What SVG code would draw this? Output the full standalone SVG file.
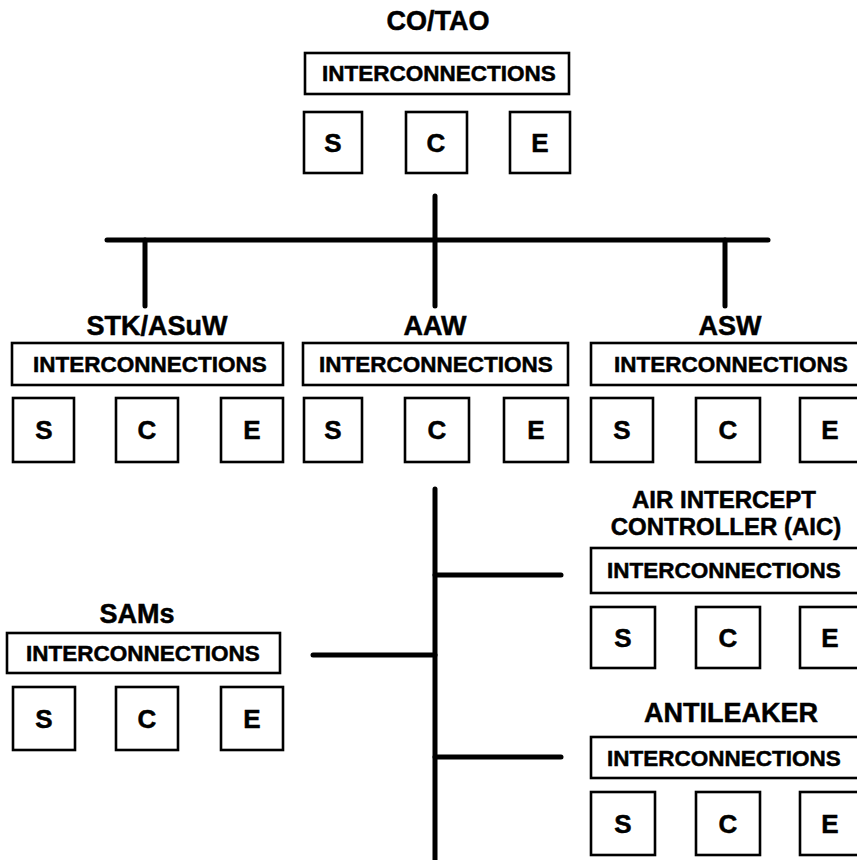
<svg xmlns="http://www.w3.org/2000/svg" width="857" height="860" viewBox="0 0 857 860">
<style>
rect.b{fill:#fff;stroke:#000;stroke-width:2.6}
text{font-family:"Liberation Sans",Arial,sans-serif;font-weight:bold;text-anchor:middle;fill:#000;stroke:#000;stroke-width:0.5}
.t{font-size:27px}
.a{font-size:24px}
.i{font-size:22.5px}
.l{font-size:26px}
.c line{stroke:#000;stroke-width:5;stroke-linecap:round}
</style>
<rect width="857" height="860" fill="#fff"/>
<g class="c" id="connectors">
<line x1="107" y1="240" x2="768" y2="240"/>
<line x1="435" y1="196" x2="435" y2="306"/>
<line x1="145" y1="240" x2="145" y2="306"/>
<line x1="725" y1="240" x2="725" y2="306"/>
<line x1="435" y1="489" x2="435" y2="862"/>
<line x1="435" y1="575" x2="561" y2="575"/>
<line x1="435" y1="757" x2="561" y2="757"/>
<line x1="313" y1="655" x2="435" y2="655"/>
</g>
<g id="cotao">
<text class="t" x="438" y="30">CO/TAO</text>
<rect class="b" x="305" y="53" width="264" height="41"/>
<text class="i" x="439" y="81">INTERCONNECTIONS</text>
<rect class="b" x="304" y="112" width="58" height="61"/><text class="l" x="333" y="152">S</text>
<rect class="b" x="406" y="112" width="61" height="61"/><text class="l" x="436" y="152">C</text>
<rect class="b" x="510" y="112" width="60" height="61"/><text class="l" x="540" y="152">E</text>
</g>
<g id="stk">
<text class="t" x="157" y="335">STK/ASuW</text>
<rect class="b" x="12" y="343" width="271" height="42"/>
<text class="i" x="150" y="372">INTERCONNECTIONS</text>
<rect class="b" x="13" y="398" width="61" height="64"/><text class="l" x="44" y="439">S</text>
<rect class="b" x="116" y="398" width="62" height="64"/><text class="l" x="147" y="439">C</text>
<rect class="b" x="221" y="398" width="62" height="64"/><text class="l" x="252" y="439">E</text>
</g>
<g id="aaw">
<text class="t" x="435" y="335">AAW</text>
<rect class="b" x="303" y="343" width="265" height="42"/>
<text class="i" x="436" y="372">INTERCONNECTIONS</text>
<rect class="b" x="304" y="398" width="58" height="64"/><text class="l" x="333" y="439">S</text>
<rect class="b" x="405" y="398" width="64" height="64"/><text class="l" x="437" y="439">C</text>
<rect class="b" x="504" y="398" width="64" height="64"/><text class="l" x="536" y="439">E</text>
</g>
<g id="asw">
<text class="t" x="730" y="335">ASW</text>
<rect class="b" x="591" y="343" width="280" height="42"/>
<text class="i" x="731" y="372">INTERCONNECTIONS</text>
<rect class="b" x="591" y="398" width="62" height="64"/><text class="l" x="622" y="439">S</text>
<rect class="b" x="696" y="398" width="64" height="64"/><text class="l" x="728" y="439">C</text>
<rect class="b" x="800" y="398" width="64" height="64"/><text class="l" x="830" y="439">E</text>
</g>
<g id="aic">
<text class="a" x="724" y="508">AIR INTERCEPT</text>
<text class="a" x="726" y="535">CONTROLLER (AIC)</text>
<rect class="b" x="591" y="548" width="280" height="45"/>
<text class="i" x="724" y="578">INTERCONNECTIONS</text>
<rect class="b" x="591" y="607" width="64" height="61"/><text class="l" x="623" y="647">S</text>
<rect class="b" x="696" y="607" width="64" height="61"/><text class="l" x="728" y="647">C</text>
<rect class="b" x="800" y="607" width="64" height="61"/><text class="l" x="830" y="647">E</text>
</g>
<g id="sams">
<text class="t" x="137" y="623">SAMs</text>
<rect class="b" x="7" y="633" width="273" height="40"/>
<text class="i" x="143" y="661">INTERCONNECTIONS</text>
<rect class="b" x="13" y="687" width="62" height="63"/><text class="l" x="44" y="728">S</text>
<rect class="b" x="116" y="687" width="62" height="63"/><text class="l" x="147" y="728">C</text>
<rect class="b" x="221" y="687" width="62" height="63"/><text class="l" x="252" y="728">E</text>
</g>
<g id="antileaker">
<text class="t" x="731" y="722">ANTILEAKER</text>
<rect class="b" x="591" y="737" width="280" height="41"/>
<text class="i" x="724" y="766">INTERCONNECTIONS</text>
<rect class="b" x="591" y="792" width="64" height="63"/><text class="l" x="623" y="833">S</text>
<rect class="b" x="696" y="792" width="64" height="63"/><text class="l" x="728" y="833">C</text>
<rect class="b" x="800" y="792" width="64" height="63"/><text class="l" x="830" y="833">E</text>
</g>
</svg>
